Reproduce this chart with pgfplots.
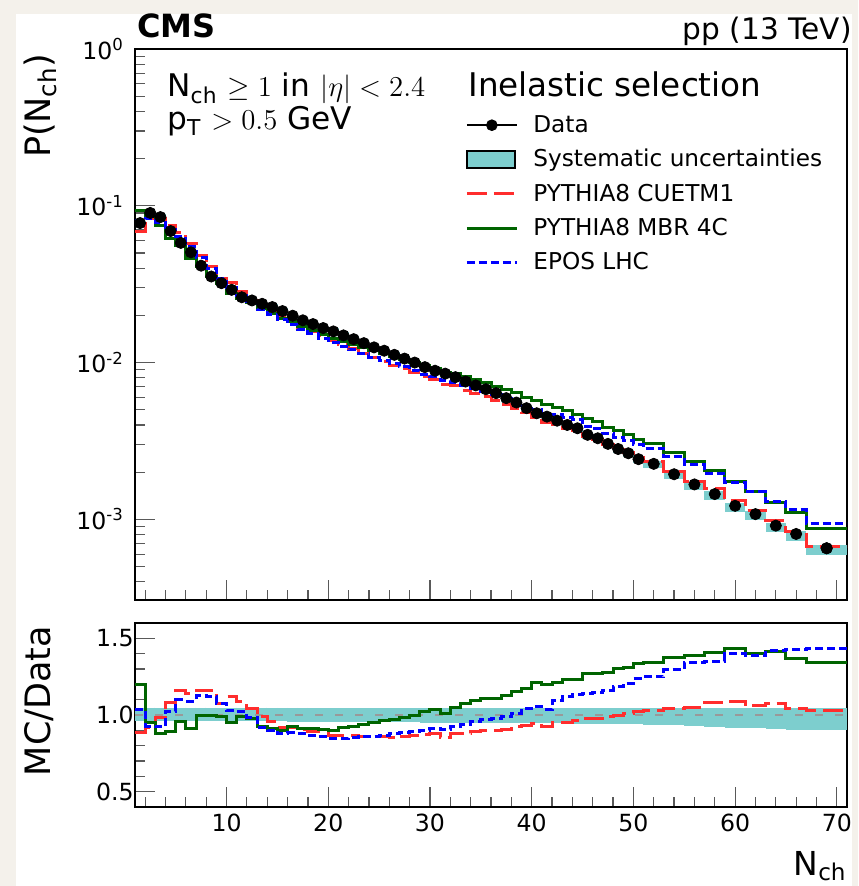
\documentclass[border=0pt]{standalone}
\usepackage[no-math]{fontspec}
\setmainfont{DejaVu Sans}
\usepackage{pgfplots}
\pgfplotsset{compat=1.18}
\usepackage{pgfplotstable}

\definecolor{cmsred}{RGB}{255,45,45}
\definecolor{cmsgreen}{RGB}{0,100,0}
\definecolor{cmsblue}{RGB}{0,0,255}
\definecolor{systband}{RGB}{125,206,206}
\definecolor{paper}{RGB}{244,241,235}

% x: left bin edge, c: bin centre / data point, d: P(Nch)
% rc/rm/re: MC/Data for CUETM1, MBR 4C, EPOS LHC; bl/bu: syst. band
\pgfplotstableread{
x  c    d        rc    rm    re    bl    bu
1  1.5  0.0776   0.885 1.200 1.035 0.960 1.048
2  2.5  0.0900   0.920 0.952 0.928 0.960 1.048
3  3.5  0.0847   0.985 0.880 0.924 0.960 1.048
4  4.5  0.0690   1.080 0.890 1.020 0.960 1.048
5  5.5  0.0580   1.163 0.956 1.098 0.960 1.048
6  6.5  0.0505   1.141 0.913 1.090 0.960 1.048
7  7.5  0.0415   1.163 0.995 1.124 0.960 1.048
8  8.5  0.0354   1.160 0.998 1.120 0.960 1.048
9  9.5  0.0321   1.076 0.993 1.072 0.960 1.048
10 10.5 0.0291   1.120 0.952 1.030 0.960 1.048
11 11.5 0.0261   1.087 0.988 1.022 0.960 1.048
12 12.5 0.0249   1.043 0.975 0.985 0.960 1.048
13 13.5 0.0237   0.989 0.928 0.920 0.960 1.048
14 14.5 0.0226   0.956 0.915 0.902 0.958 1.047
15 15.5 0.0213   0.920 0.898 0.880 0.958 1.047
16 16.5 0.0199   0.920 0.924 0.885 0.957 1.046
17 17.5 0.0186   0.906 0.913 0.880 0.957 1.046
18 18.5 0.0176   0.891 0.913 0.869 0.956 1.045
19 19.5 0.0166   0.891 0.906 0.859 0.956 1.045
20 20.5 0.0158   0.869 0.902 0.848 0.955 1.045
21 21.5 0.0149   0.869 0.919 0.848 0.955 1.045
22 22.5 0.0141   0.869 0.928 0.854 0.955 1.045
23 23.5 0.0133   0.859 0.935 0.859 0.954 1.045
24 24.5 0.0125   0.863 0.950 0.863 0.954 1.044
25 25.5 0.0119   0.859 0.967 0.869 0.953 1.044
26 26.5 0.0112   0.854 0.972 0.880 0.953 1.044
27 27.5 0.0106   0.863 0.985 0.885 0.952 1.044
28 28.5 0.0100   0.869 1.000 0.891 0.952 1.044
29 29.5 0.00935  0.876 1.022 0.902 0.951 1.043
30 30.5 0.00887  0.880 1.035 0.913 0.951 1.043
31 31.5 0.00850  0.854 1.013 0.906 0.950 1.043
32 32.5 0.00807  0.880 1.048 0.928 0.950 1.043
33 33.5 0.00757  0.880 1.072 0.941 0.950 1.043
34 34.5 0.00715  0.891 1.095 0.956 0.949 1.043
35 35.5 0.00676  0.902 1.109 0.972 0.949 1.043
36 36.5 0.00638  0.902 1.110 0.978 0.948 1.043
37 37.5 0.00593  0.906 1.130 0.993 0.948 1.043
38 38.5 0.00556  0.922 1.152 1.011 0.947 1.043
39 39.5 0.00512  0.933 1.174 1.043 0.947 1.043
40 40.5 0.00475  0.943 1.211 1.054 0.946 1.043
41 41.5 0.00452  0.922 1.200 1.037 0.946 1.043
42 42.5 0.00426  0.950 1.211 1.094 0.945 1.043
43 43.5 0.00400  0.954 1.233 1.120 0.945 1.043
44 44.5 0.00381  0.965 1.233 1.131 0.944 1.043
45 45.5 0.00346  0.976 1.272 1.137 0.944 1.043
46 46.5 0.00329  0.980 1.272 1.146 0.943 1.043
47 47.5 0.00303  0.989 1.280 1.163 0.943 1.043
48 48.5 0.00281  0.996 1.304 1.185 0.942 1.043
49 49.5 0.00264  1.011 1.310 1.207 0.942 1.043
50 50.5 0.00242  1.020 1.337 1.240 0.941 1.043
51 52   0.00226  1.028 1.340 1.248 0.938 1.043
53 54   0.00194  1.043 1.378 1.298 0.933 1.043
55 56   0.00167  1.048 1.391 1.345 0.927 1.043
57 58   0.00145  1.083 1.406 1.352 0.922 1.043
59 60   0.00122  1.087 1.435 1.400 0.917 1.043
61 62   0.00108  1.059 1.400 1.385 0.912 1.043
63 64   0.000912 1.076 1.413 1.419 0.908 1.043
65 66   0.000807 1.041 1.370 1.428 0.904 1.043
67 69   0.000654 1.030 1.345 1.434 0.900 1.043
71 69   0.000654 1.030 1.345 1.434 0.900 1.043
}\nch

\tikzset{
  cue/.style={cmsred, line width=1.5pt, dash pattern=on 10pt off 3.5pt},
  mbr/.style={cmsgreen, line width=1.5pt},
  epos/.style={cmsblue, line width=1.5pt, dash pattern=on 4pt off 2pt},
  lbl/.style={inner sep=0pt},
}
\pgfplotsset{
  panel/.style={
    scale only axis, width=356pt,
    xmin=1, xmax=71,
    axis line style={line width=1pt},
    tick pos=left, tick align=inside,
    major tick length=10pt, minor tick length=5pt,
    tick style={black!65, line width=0.6pt},
    xtick={10,20,30,40,50,60,70}, minor xtick={2,4,...,70},
    tick label style={font=\fontsize{11.8}{13}\selectfont},
  },
  % systematic band: one vertical bar per bin, as wide as the bin
  band/.style={only marks, mark=*, mark size=0.1pt, mark options={opacity=0}, forget plot,
    error bars/y dir=both, error bars/y explicit, error bars/error mark=none,
    error bars/error bar style={draw=systband, line width=#1, line cap=butt}},
  dataleg/.style={legend image code/.code={
    \draw[black, line width=1pt] (0pt,0pt) -- (25pt,0pt);
    \fill[black] (12.5pt,0pt) circle (2.7pt);}},
  systleg/.style={legend image code/.code={
    \draw[black, fill=systband, line width=0.8pt] (0pt,-4.2pt) rectangle (24pt,4.2pt);}},
  cueleg/.style={legend image code/.code={\draw[cue] (0pt,0pt) -- (25pt,0pt);}},
  mbrleg/.style={legend image code/.code={\draw[mbr] (0pt,0pt) -- (25pt,0pt);}},
  eposleg/.style={legend image code/.code={\draw[epos] (0pt,0pt) -- (25pt,0pt);}},
}

\begin{document}
\begin{tikzpicture}
\useasboundingbox (0pt,0pt) rectangle (429pt,-443pt);
\fill[paper] (0pt,0pt) rectangle (429pt,-443pt);
\fill[white] (8pt,-7pt) rectangle (426pt,-443pt);

% upper panel
\begin{axis}[panel,
  at={(67.5pt,-24.5pt)}, anchor=north west, height=275.5pt,
  ymode=log, ymin=3.06e-4, ymax=1,
  ytick={1,0.1,0.01,0.001},
  yticklabels={10\textsuperscript{0},10\textsuperscript{-1},10\textsuperscript{-2},10\textsuperscript{-3}},
  minor ytick={0.0004,0.0005,0.0006,0.0007,0.0008,0.0009,
    0.002,0.003,0.004,0.005,0.006,0.007,0.008,0.009,
    0.02,0.03,0.04,0.05,0.06,0.07,0.08,0.09,
    0.2,0.3,0.4,0.5,0.6,0.7,0.8,0.9},
  xticklabels={},
  yticklabel style={xshift=-2pt},
  legend style={draw=none, fill=none, at={(0.455,0.895)}, anchor=north west,
    font=\fontsize{11.6}{13}\selectfont, row sep=3pt, column sep=5.5pt},
  legend cell align=left,
]
\addlegendimage{dataleg}
\addlegendentry{Data}
\addlegendimage{systleg}
\addlegendentry{Systematic uncertainties}
\addlegendimage{cueleg}
\addlegendentry{PYTHIA8 CUETM1}
\addlegendimage{mbrleg}
\addlegendentry{PYTHIA8 MBR 4C}
\addlegendimage{eposleg}
\addlegendentry{EPOS LHC}

\addplot[restrict x to domain=1:51, band=5.2pt]
  table[x=c, y=d, y error plus expr=\thisrow{d}*(\thisrow{bu}-1),
        y error minus expr=\thisrow{d}*(1-\thisrow{bl})] {\nch};
\addplot[restrict x to domain=51:67, band=10.3pt]
  table[x=c, y=d, y error plus expr=\thisrow{d}*(\thisrow{bu}-1),
        y error minus expr=\thisrow{d}*(1-\thisrow{bl})] {\nch};
\addplot[restrict x to domain=67:71, band=20.4pt]
  table[x=c, y=d, y error plus expr=\thisrow{d}*(\thisrow{bu}-1),
        y error minus expr=\thisrow{d}*(1-\thisrow{bl})] {\nch};

\addplot[only marks, mark=*, mark size=2.8pt, black, forget plot] table[x=c, y=d] {\nch};

\addplot[cue, const plot mark left, forget plot] table[x=x, y expr=\thisrow{d}*\thisrow{rc}] {\nch};
\addplot[mbr, const plot mark left, forget plot] table[x=x, y expr=\thisrow{d}*\thisrow{rm}] {\nch};
\addplot[epos, const plot mark left, forget plot] table[x=x, y expr=\thisrow{d}*\thisrow{re}] {\nch};
\end{axis}

% ratio panel
\begin{axis}[panel,
  at={(67.5pt,-311.5pt)}, anchor=north west, height=92pt,
  ymin=0.4, ymax=1.6,
  ytick={0.5,1,1.5}, yticklabels={0.5,1.0,1.5},
  minor ytick={0.6,0.7,0.8,0.9,1.1,1.2,1.3,1.4},
  xticklabels={10,20,30,40,50,60,70},
  yticklabel style={inner sep=0pt, xshift=-0.5pt},
]
\addplot[restrict x to domain=1:51, band=5.2pt]
  table[x=c, y=bu, y error minus expr=\thisrow{bu}-\thisrow{bl}, y error plus expr=0] {\nch};
\addplot[restrict x to domain=51:67, band=10.3pt]
  table[x=c, y=bu, y error minus expr=\thisrow{bu}-\thisrow{bl}, y error plus expr=0] {\nch};
\addplot[restrict x to domain=67:71, band=20.4pt]
  table[x=c, y=bu, y error minus expr=\thisrow{bu}-\thisrow{bl}, y error plus expr=0] {\nch};
\addplot[black!40, line width=0.8pt, dash pattern=on 4pt off 6pt, forget plot]
  coordinates {(1,1) (71,1)};
\addplot[cue, const plot mark left, forget plot] table[x=x, y=rc] {\nch};
\addplot[mbr, const plot mark left, forget plot] table[x=x, y=rm] {\nch};
\addplot[epos, const plot mark left, forget plot] table[x=x, y=re] {\nch};
\end{axis}

% text
\node[lbl, anchor=base west, font=\fontsize{16}{18}\selectfont\bfseries] at (68.5pt,-19pt) {CMS};
\node[lbl, anchor=base east, font=\fontsize{14.8}{17}\selectfont] at (426pt,-20pt) {pp (13 TeV)};
\node[lbl, anchor=base west, font=\fontsize{15.6}{17}\selectfont] at (83.5pt,-48.5pt)
  {N\textsubscript{ch} $\geq 1$ in $|\eta| < 2.4$};
\node[lbl, anchor=base west, font=\fontsize{15.6}{17}\selectfont] at (83.5pt,-65pt)
  {p\textsubscript{T} $> 0.5$ GeV};
\node[lbl, anchor=base west, font=\fontsize{16.3}{18}\selectfont] at (234pt,-48.5pt) {Inelastic selection};
\node[lbl, rotate=90, anchor=base east, font=\fontsize{17.5}{20}\selectfont] at (25pt,-26.5pt) {P(N\textsubscript{ch})};
\node[lbl, rotate=90, anchor=base, font=\fontsize{17.5}{20}\selectfont] at (25pt,-350.5pt) {MC/Data};
\node[lbl, anchor=base east, font=\fontsize{16.5}{19}\selectfont] at (423.5pt,-437.5pt) {N\textsubscript{ch}};
\end{tikzpicture}
\end{document}
